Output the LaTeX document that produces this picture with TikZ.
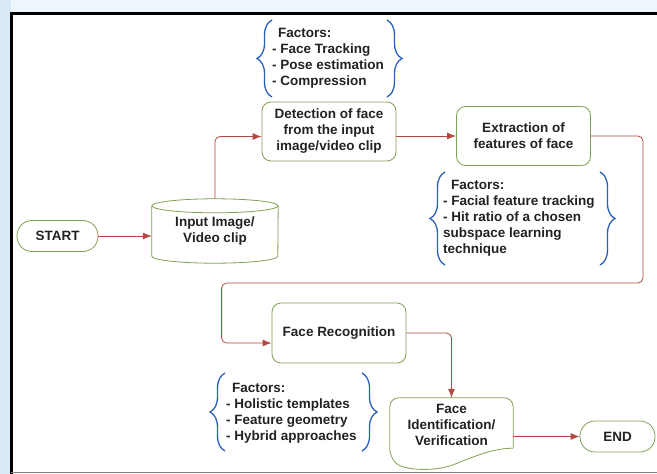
\documentclass[tikz,border=0pt]{standalone}
\usepackage{fontspec}
\setmainfont{Liberation Sans}
\usetikzlibrary{arrows.meta, decorations.pathreplacing}
\tikzset{>={Latex[length=9pt, width=7pt]}}
\definecolor{boxgreen}{RGB}{128,160,84}
\definecolor{flowred}{RGB}{180,72,66}
\definecolor{braceblue}{RGB}{40,96,184}
\definecolor{paleblue}{RGB}{218,234,248}
\definecolor{ink}{RGB}{34,34,34}
\tikzset{
	box/.style={draw=boxgreen, thick, rounded corners=9pt, align=center, minimum width=134pt, minimum height=59pt},
	pill/.style={draw=boxgreen, thick, rounded corners=15pt, minimum height=31pt},
	flow/.style={draw=flowred, thick, ->, rounded corners=5pt},
	brc/.style={draw=braceblue, line width=1.3pt, decorate, decoration={brace, amplitude=15pt}},
	factors/.style={align=left, anchor=north west, inner sep=0pt}
}
\newcommand{\fbrace}[4]{
	\draw[brc](#1, #4)--(#1, #3);
	\draw[brc](#2, #3)--(#2, #4);
}

\begin{document}
\begin{tikzpicture}[x=1pt, y=-1pt, text=ink, font=\fontsize{13.5}{16}\selectfont\bfseries]
	\useasboundingbox(0, 0) rectangle (657, 474);
	\fill[paleblue](0, 0) rectangle (11, 474);
	\fill[paleblue!45](11, 0) rectangle (657, 12);
	\draw[line width=3pt](11, 474)--(11, 13)--(657, 13);
	\draw[gray](11, 472.5)--(657, 472.5);

	\node[pill, minimum width=81pt](start) at (57.5, 236){START};
	\node[minimum width=126pt, minimum height=64pt, align=center](inp) at (215, 231){Input Image/\\Video clip};
	\draw[draw=boxgreen, thick]([yshift=-7pt]inp.north) ellipse[x radius=63pt, y radius=7pt];
	\draw[draw=boxgreen, thick]([yshift=-7pt]inp.north west)--([yshift=7pt]inp.south west)
		arc[start angle=180, end angle=360, x radius=63pt, y radius=7pt]--([yshift=-7pt]inp.north east);
	\node[box](det) at (329, 131.5){Detection of face\\from the input\\image/video clip};
	\node[box](extr) at (523.5, 136){Extraction of\\features of face};
	\node[box, minimum height=60pt](rec) at (339, 333){Face Recognition};
	\node[minimum width=123pt, minimum height=54pt, align=center](ident) at (451.5, 425){Face\\Identification/\\Verification};
	\draw[draw=boxgreen, thick, rounded corners=9pt]([yshift=4pt]ident.south east)--(ident.north east)--(ident.north west)--([yshift=-6pt]ident.south west)
		[sharp corners] .. controls +(15, 12) and +(-20, 8) .. ++(65, 6) .. controls +(20, -8) and +(-20, 0) .. ([yshift=4pt]ident.south east);
	\node[pill, minimum width=75pt](fin) at (617.5, 436.5){END};

	\draw[flow](start.east)--(start.east -| inp.west);
	\draw[flow](inp.north)|-([yshift=-5pt]det.west);
	\draw[flow](det.east |- extr.west)--(extr.west);
	\draw[flow](extr.east)--++(52, 0)--++(0, 147)-|([xshift=-50pt, yshift=-10pt]rec.west)--([yshift=-10pt]rec.west);
	\draw[flow](rec.east)-|(ident.north);
	\draw[flow](ident.east |- fin.west)--(fin.west);

	\fbrace{272}{387}{20}{97};
	\node[factors](fdet) at (272, 28){\hspace*{6pt}Factors:\\- Face Tracking\\- Pose estimation\\- Compression};
	\fbrace{445}{600}{172}{265};
	\node[factors](fextr) at (443, 180){\hspace*{8pt}Factors:\\- Facial feature tracking\\- Hit ratio of a chosen\\subspace learning\\technique};
	\fbrace{225}{362}{373}{451};
	\node[factors](frec) at (226, 383){\hspace*{6pt}Factors:\\- Holistic templates\\- Feature geometry\\- Hybrid approaches};
\end{tikzpicture}
\end{document}
